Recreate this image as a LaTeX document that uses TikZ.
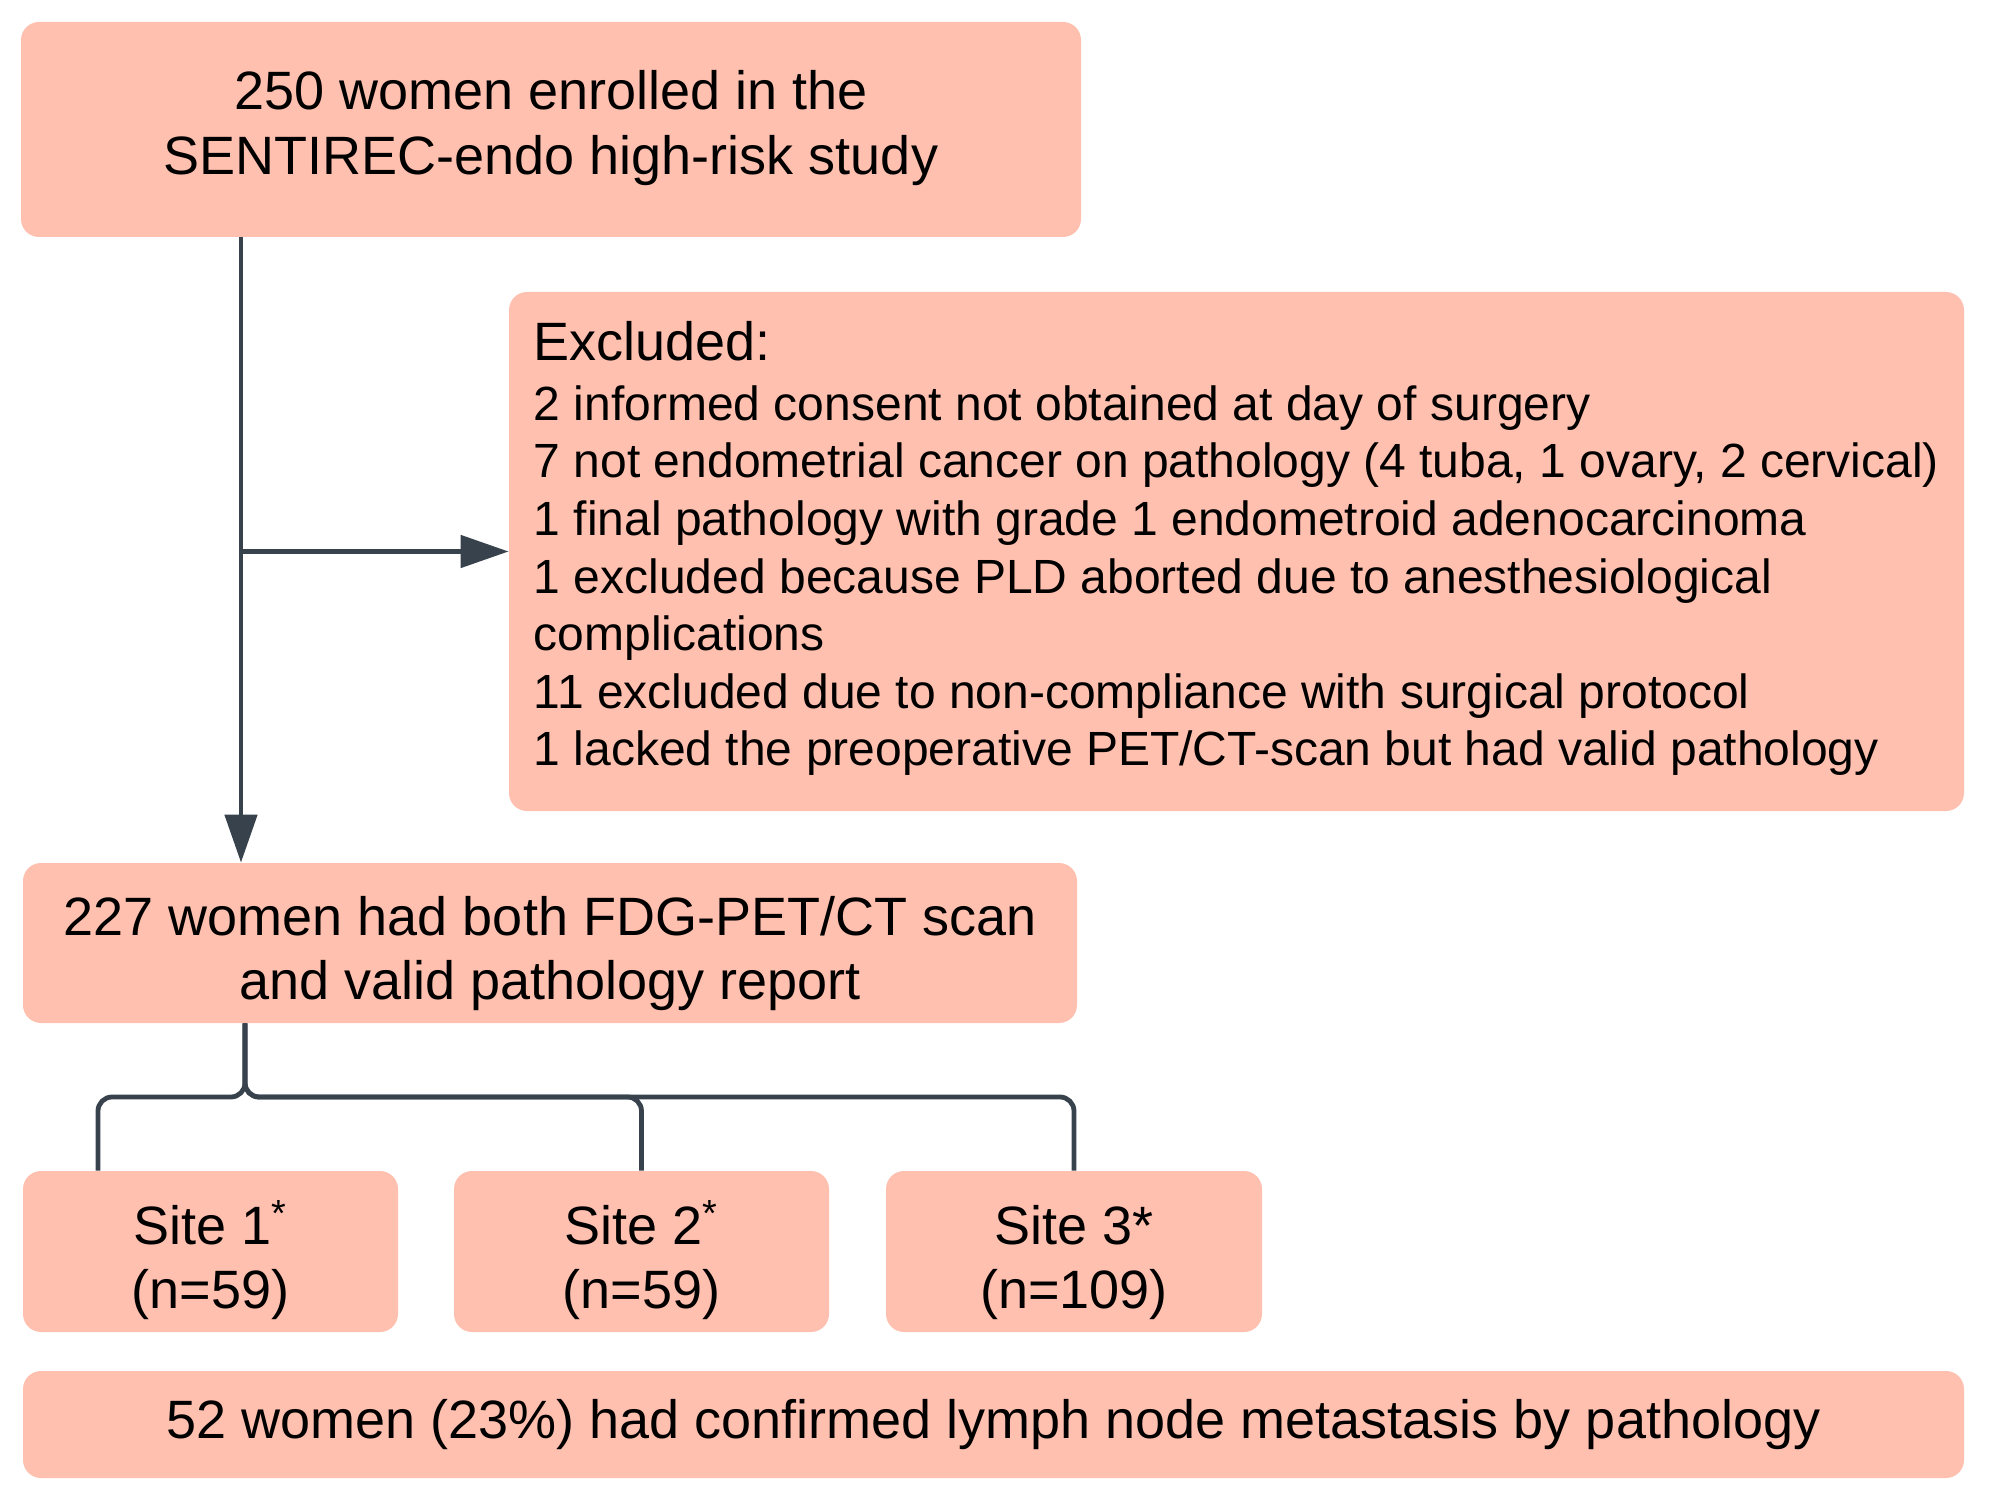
\documentclass[tikz,border=0pt]{standalone}
\usepackage{fontspec}
\setmainfont{Liberation Sans}
\usetikzlibrary{arrows.meta}
\definecolor{boxfill}{HTML}{FFC0AF}
\definecolor{linecol}{HTML}{38424D}
\newcommand{\bxtxt}[2]{\raisebox{#1}[\height][\depth]{\begin{tabular}{@{}c@{}}#2\end{tabular}}}
\tikzset{
  flowbox/.style={fill=boxfill, draw=none, rounded corners=9pt, inner sep=0pt, align=center,
    font=\fontsize{27}{32.5}\selectfont, text=black},
  conn/.style={draw=linecol, line width=2.4pt},
  arr/.style={conn, -{Triangle[length=24pt,width=16pt]}},
}
\begin{document}
\begin{tikzpicture}[x=0.5pt,y=-0.5pt]
\useasboundingbox (0,0) rectangle (1994,1503);

\node[flowbox, minimum width=530pt, minimum height=107.5pt] (b1) at (551,129.5)
  {\bxtxt{0pt}{250 women enrolled in the\\SENTIREC-endo high-risk study}};

\node[flowbox, minimum width=727.5pt, minimum height=259.5pt,
  font=\fontsize{24}{28.8}\selectfont] (excl) at (1236.5,551.5)
  {\begin{tabular}{@{}l@{}}
   {\fontsize{27}{32.5}\selectfont Excluded:}\\[1.2pt]
   2 informed consent not obtained at day of surgery\\
   7 not endometrial cancer on pathology (4 tuba, 1 ovary, 2 cervical)\\
   1 final pathology with grade 1 endometroid adenocarcinoma\\
   1 excluded because PLD aborted due to anesthesiological\\
   complications\\
   11 excluded due to non-compliance with surgical protocol\\
   1 lacked the preoperative PET/CT-scan but had valid pathology
   \end{tabular}};

\node[flowbox, minimum width=527pt, minimum height=80pt, font=\fontsize{27}{32}\selectfont] (b227) at (550,943)
  {\bxtxt{-5.75pt}{227 women had both FDG-PET/CT scan\\and valid pathology report}};

\node[flowbox, minimum width=187.5pt, minimum height=80.5pt, font=\fontsize{27}{32}\selectfont] (s1) at (210.5,1251.5)
  {\bxtxt{-6pt}{Site 1\textsuperscript{*}\\(n=59)}};
\node[flowbox, minimum width=187.5pt, minimum height=80.5pt, font=\fontsize{27}{32}\selectfont] (s2) at (641.5,1251.5)
  {\bxtxt{-6pt}{Site 2\textsuperscript{*}\\(n=59)}};
\node[flowbox, minimum width=188pt, minimum height=80.5pt, font=\fontsize{27}{32}\selectfont] (s3) at (1074,1251.5)
  {\bxtxt{-6pt}{Site 3*\\(n=109)}};

\node[flowbox, minimum width=970.5pt, minimum height=53.5pt] (bot) at (993.5,1424.5)
  {52 women (23\%) had confirmed lymph node metastasis by pathology};

\coordinate (st) at (241,0);
\draw[arr] (st |- b1.south) -- (st |- b227.north);
\draw[arr] (st |- excl.west) -- (excl.west);

\coordinate (br) at (245,0);
\coordinate (hy) at (0,1097);
\coordinate (d1) at (98,0);
\draw[conn, rounded corners=7pt] (br |- b227.south) -- (br |- hy) -- (d1 |- hy) -- (d1 |- s1.north);
\draw[conn, rounded corners=7pt] (br |- b227.south) -- (br |- hy) -- (s2.north |- hy) -- (s2.north);
\draw[conn, rounded corners=7pt] (br |- b227.south) -- (br |- hy) -- (s3.north |- hy) -- (s3.north);
\end{tikzpicture}
\end{document}
